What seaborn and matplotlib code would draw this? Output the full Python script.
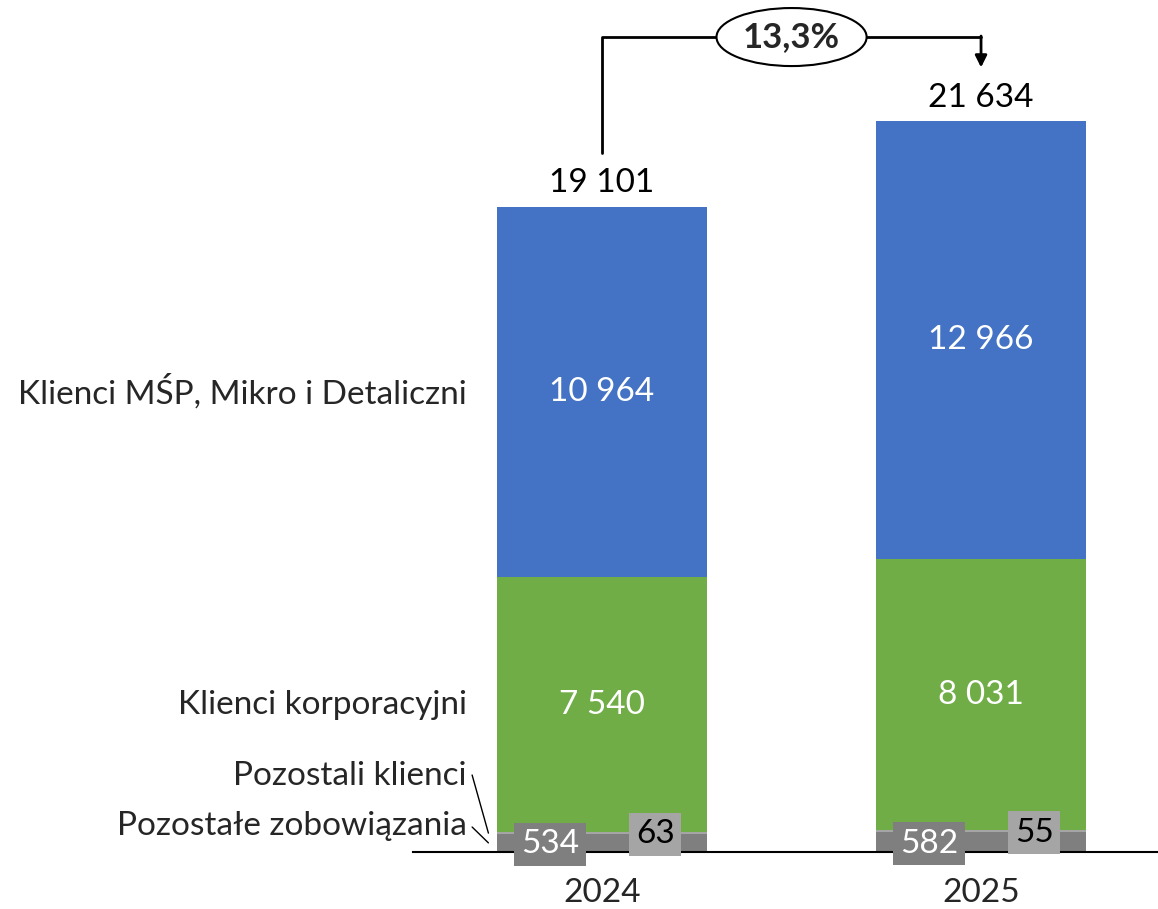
import pandas as pd
import seaborn as sns
import matplotlib.pyplot as plt
import numpy as np

# data
years = ["2024", "2025"]
pozostale_zob = [534, 582]
pozostali_klienci = [63, 55]
korporacyjni = [7540, 8031]
msp = [10964, 12966]

layer_names = ["Pozostałe zobowiązania", "Pozostali klienci", "Klienci korporacyjni", "Klienci MŚP, Mikro i Detaliczni"]
layer_colors = ["#7F7F7F", "#A5A5A5", "#70AD47", "#4472C4"]

df = pd.DataFrame({"year": years, "zob": pozostale_zob, "pk": pozostali_klienci,
                   "korp": korporacyjni, "msp": msp})
cols = ["zob", "pk", "korp", "msp"]
cum = df[cols].cumsum(axis=1)
for c in cols:
    df["cum_" + c] = cum[c]
totals = cum["msp"].values
growth = totals[1] / totals[0] - 1


def fmt(v):
    return f"{int(v):,}".replace(",", " ")


sns.set_style("white")
plt.rcParams['font.family'] = ['Lato', 'DejaVu Sans']
FS = 24

fig = plt.figure(figsize=(11.58, 9.09), dpi=100)
ax = fig.add_axes([413 / 1158, 57 / 909, 745 / 1158, 852 / 909])

bar_w = 0.554
# stacked bars: draw cumulative layers from top to bottom
for c, col in reversed(list(zip(cols, layer_colors))):
    sns.barplot(data=df, x="year", y="cum_" + c, color=col, width=bar_w,
                saturation=1, linewidth=0, ax=ax)

ymax = totals[0] * 852 / 645
ax.set_xlim(-0.499, 1.467)
ax.set_ylim(0, ymax)
for s in ["left", "right", "top"]:
    ax.spines[s].set_visible(False)
ax.spines["bottom"].set_color("black")
ax.spines["bottom"].set_linewidth(1.5)
ax.set_yticks([])
ax.set_xlabel("")
ax.set_ylabel("")
ax.tick_params(axis="x", length=0, pad=19, labelsize=FS)

# segment labels
for i in range(len(years)):
    base = 0
    vals = [pozostale_zob[i], pozostali_klienci[i], korporacyjni[i], msp[i]]
    for j, v in enumerate(vals):
        mid = base + v / 2
        if j == 0:
            ax.text(i - 0.137, mid - 40, fmt(v), ha="center", va="center", fontsize=FS, color="white",
                    bbox=dict(boxstyle="square,pad=0.2", fc="#7F7F7F", ec="none"))
        elif j == 1:
            ax.text(i + 0.14, mid - 40, fmt(v), ha="center", va="center", fontsize=FS, color="black",
                    bbox=dict(boxstyle="square,pad=0.2", fc="#A5A5A5", ec="none"))
        else:
            ax.text(i, mid, fmt(v), ha="center", va="center", fontsize=FS, color="white")
        base += v
    ax.text(i, totals[i] + 700, fmt(totals[i]), ha="center", va="center", fontsize=FS, color="black")

# category labels on the left
lab_x = -0.357
ax.text(lab_x, msp[0] / 2 + cum["korp"][0], layer_names[3], ha="right", va="center", fontsize=FS)
ax.text(lab_x, korporacyjni[0] / 2 + cum["pk"][0], layer_names[2], ha="right", va="center", fontsize=FS)
ax.text(lab_x, 2240, layer_names[1], ha="right", va="center", fontsize=FS)
ax.text(lab_x, 770, layer_names[0], ha="right", va="center", fontsize=FS)
ax.plot([-0.343, -0.30], [2280, 560], color="black", lw=1, clip_on=False)
ax.plot([-0.343, -0.30], [740, 270], color="black", lw=1, clip_on=False)

# growth arrow
top_y = max(totals) + 2500
ax.plot([0, 0, 1], [totals[0] + 1600, top_y, top_y], color="black", lw=2, clip_on=False)
ax.annotate("", xy=(1, totals[1] + 1600), xytext=(1, top_y + 30),
            arrowprops=dict(arrowstyle="-|>,head_width=0.35,head_length=0.7", color="black", lw=2,
                            shrinkA=0, shrinkB=0), annotation_clip=False)
ax.text(0.5, top_y, f"{growth * 100:.1f}%".replace(".", ","), ha="center", va="center",
        fontsize=FS + 1, fontweight="bold",
        bbox=dict(boxstyle="ellipse,pad=0.13", fc="white", ec="black", lw=1.5))

plt.savefig("out.png", dpi=100)
